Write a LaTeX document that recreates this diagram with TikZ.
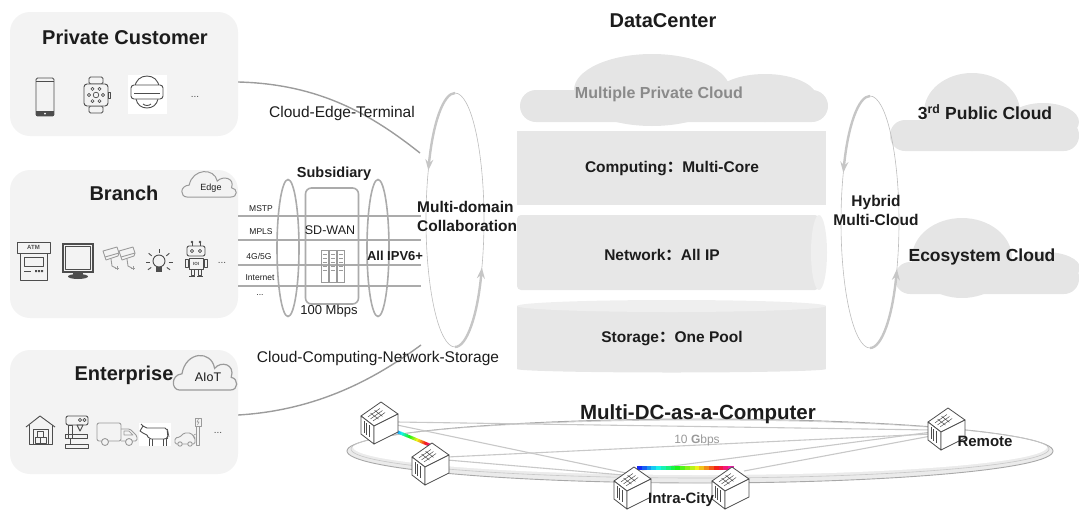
\documentclass[tikz,border=0pt]{standalone}
\usepackage{fontspec}
\setmainfont{Liberation Sans}
\newfontfamily\cjkfont{Noto Sans CJK SC}
\usetikzlibrary{shapes.geometric,arrows.meta,calc}

\definecolor{boxfill}{HTML}{F3F3F3}
\definecolor{bandfill}{HTML}{E7E7E7}
\definecolor{capfill}{HTML}{EFEFEF}
\definecolor{cloudfill}{HTML}{E5E5E5}
\definecolor{linegray}{HTML}{ABABAB}
\definecolor{curvegray}{HTML}{9C9C9C}
\definecolor{ringgray}{HTML}{BDBDBD}
\definecolor{arrowgray}{HTML}{C6C6C6}
\definecolor{icongray}{HTML}{4D4D4D}
\definecolor{palegray}{HTML}{9A9A9A}
\definecolor{txt}{HTML}{1C1C1C}
\definecolor{softtxt}{HTML}{8A8A8A}
\definecolor{meshgray}{HTML}{C8C8C8}
\definecolor{floorline}{HTML}{A8A8A8}
\definecolor{floorfill}{HTML}{EBEBEB}

\newcommand{\fwcolon}{{\cjkfont ：}}

\tikzset{
  dcline/.style={draw=icongray, line width=0.8pt, line join=round},
  pics/dcbox/.style={code={
    \draw[dcline, fill=white] (-18,-6) -- (2,-20) -- (19,-8) -- (-5,4) -- cycle;
    \draw[dcline, fill=white] (-18,-6) -- (-5,4) -- (-5,22) -- (-18,12) -- cycle;
    \draw[dcline, fill=white] (-5,4) -- (19,-8) -- (19,10) -- (-5,22) -- cycle;
    \draw[dcline, line width=0.5pt] (-11.1,-5.1) -- (0.9,-13.5) (-8.5,-3.1) -- (3.5,-11.5)
       (-5.9,-1.1) -- (6.1,-9.5) (-8.4,-8.9) -- (-0.6,-2.9) (-4.4,-11.7) -- (3.4,-5.7);
    \draw[dcline, line width=0.6pt] (-15,-0.7) -- (-15,11.3) (-12.5,1.2) -- (-12.5,13.2) (-10,3.2) -- (-10,15.2);
  }},
  pics/cloudline/.style={code={
    \draw[pic actions] (-0.8,0) .. controls (-1.05,0) and (-1.08,-0.42) .. (-0.72,-0.45)
      .. controls (-0.6,-1.08) and (0.2,-1.12) .. (0.3,-0.6)
      .. controls (0.5,-0.82) and (0.95,-0.72) .. (0.82,-0.35)
      .. controls (1.05,-0.32) and (1.05,0) .. (0.8,0) -- cycle;
  }}
}

\begin{document}
\begin{tikzpicture}[x=1pt,y=-1pt,
  panel/.style={fill=boxfill, rounded corners=20pt, minimum width=228pt, inner sep=0pt},
  ptitle/.style={font=\fontsize{20}{24}\selectfont\bfseries, text=txt, inner sep=0pt},
  plain/.style={font=\fontsize{15.5}{18}\selectfont, text=txt, inner sep=0pt},
  blabel/.style={font=\fontsize{15.5}{19}\selectfont\bfseries, text=txt, inner sep=0pt},
  smalltxt/.style={font=\fontsize{8.5}{10}\selectfont, text=txt, inner sep=0pt},
  dots/.style={font=\fontsize{10}{12}\selectfont, text=icongray, inner sep=0pt},
  icon/.style={draw=icongray, line width=0.9pt, line join=round},
  paleicon/.style={draw=palegray, line width=0.9pt, line join=round},
  wanline/.style={draw=linegray, line width=1.6pt},
  curveline/.style={draw=curvegray, line width=1.4pt},
  ring/.style={ellipse, draw=ringgray, line width=0.6pt, inner sep=0pt},
  cycarrow/.style={draw=arrowgray, line width=2.4pt, -{Stealth[length=11pt,width=8pt]}},
  meshline/.style={draw=meshgray, line width=1.1pt},
  dcnode/.style={minimum size=38pt, inner sep=0pt}
]
\useasboundingbox (0,0) rectangle (1079,509);

% ---------------- left panels ----------------
\node[panel, minimum height=124pt] (pc) at (124,74) {};
\node[panel, minimum height=148pt] (br) at (124,244) {};
\node[panel, minimum height=124pt] (ent) at (124,412) {};

\node[ptitle] (pct) at (125,37) {Private Customer};
\node[ptitle] (brt) at (124,193) {Branch};
\node[ptitle] (entt) at (124,375) {Enterprise};

% edge / AIoT clouds
\pic[draw=palegray, fill=boxfill, line width=1pt, xscale=27.5, yscale=26.5] at (209,197) {cloudline};
\node[font=\fontsize{9}{10}\selectfont, text=txt, inner sep=0pt] (edge) at (211,188) {Edge};
\pic[draw=palegray, fill=boxfill, line width=1.2pt, xscale=32, yscale=36] at (205,390) {cloudline};
\node[font=\fontsize{12.5}{14}\selectfont, text=txt, inner sep=0pt] (aiot) at (208,377) {AIoT};

% private customer devices
\begin{scope}[shift={(45,97)}]
  \draw[icon, rounded corners=1.5pt] (-9,-19) rectangle (9,19);
  \draw[icon] (-9,-16) -- (9,-16);
  \fill[icongray] (-9,14) rectangle (9,19);
  \fill[white] (0,16.5) circle (1);
\end{scope}
\begin{scope}[shift={(96,95)}]
  \draw[icon, rounded corners=1.5pt] (-7,-18) rectangle (7,-11);
  \draw[icon, rounded corners=1.5pt] (-7,11) rectangle (7,18);
  \draw[icon, fill=boxfill, rounded corners=3pt] (-12,-11) rectangle (12,11);
  \draw[icon] (12,-3) rectangle (14.5,3);
  \draw[icon, line width=0.7pt] (0,0) circle (2.8);
  \foreach \a in {0,60,...,300} \draw[icon, line width=0.6pt] (\a:7) circle (1.6);
\end{scope}
\begin{scope}[shift={(147,94)}]
  \fill[white] (-19,-19) rectangle (20,20);
  \draw[icon] (-12,-6) .. controls (-12,-22) and (12,-22) .. (12,-6);
  \draw[icon] (-11,5) .. controls (-9,17) and (9,17) .. (11,5);
  \draw[icon, rounded corners=3pt, fill=white] (-16,-9) rectangle (16,5);
  \draw[icon] (-13,-1) -- (13,-1);
  \draw[icon] (-4,10) .. controls (-2,12) and (2,12) .. (4,10);
\end{scope}
\node[dots] (pcdots) at (195,97) {...};

% branch devices
\begin{scope}[shift={(34,261)}]
  \draw[icon] (-17,-19) rectangle (16,-8);
  \node[font=\fontsize{6}{7}\selectfont\bfseries, text=icongray, inner sep=0pt] (atm) at (-0.5,-13.5) {ATM};
  \draw[icon] (-14,-8) rectangle (13,19);
  \draw[icon] (-10,-4) rectangle (9,5);
  \draw[icon] (-10,10) -- (-3,10);
  \fill[icongray] (1,9) rectangle (3,11) (4,9) rectangle (6,11) (7,9) rectangle (9,11);
\end{scope}
\begin{scope}[shift={(78,261)}]
  \draw[draw=icongray, line width=2.2pt] (-15,-17) rectangle (15,11);
  \draw[icon, line width=0.6pt] (-12.5,-14.5) rectangle (12.5,8.5);
  \fill[icongray] (-5,11) rectangle (5,14);
  \fill[icongray] (0,15.5) ellipse (10 and 2.5);
\end{scope}
\begin{scope}[shift={(120,260)}]
  \foreach \dx in {0,16} {
    \begin{scope}[xshift=\dx]
      \draw[paleicon] (-17,-9) -- (-3,-13) -- (-1,-7) -- (-15,-3) -- cycle;
      \draw[paleicon] (-15,-3) -- (-14,0) -- (-2,-4) -- (-1,-7);
      \draw[paleicon] (-9,-1) -- (-8,6) -- (-4,8);
      \draw[paleicon, line width=0.6pt] (-3,6) -- (-3,10) (-5,8) -- (-1,8);
    \end{scope}
  }
\end{scope}
\begin{scope}[shift={(159,262)}]
  \draw[icon] (0,-1) circle (6);
  \fill[icongray] (-3,5) rectangle (3,10);
  \foreach \a in {-90,-40,-140,0,180,35,145} \draw[icon] (\a:9.5) -- (\a:13.5);
\end{scope}
\begin{scope}[shift={(196,259)}]
  \draw[icon] (-4,-17) -- (-4,-13) (4,-17) -- (4,-13);
  \fill[icongray] (-4,-17) circle (1.3) (4,-17) circle (1.3);
  \draw[icon, rounded corners=2pt] (-9,-13) rectangle (9,-3);
  \draw[icon, line width=0.7pt] (-4,-8) circle (1.6) (4,-8) circle (1.6);
  \draw[icon] (-7,-1) rectangle (7,10);
  \node[font=\fontsize{4.5}{5}\selectfont\bfseries, text=icongray, inner sep=0pt] (ioi) at (0,4.5) {IOI};
  \draw[icon] (-11,0) rectangle (-8,8) (8,0) rectangle (11,8);
  \draw[icon] (-5,10) rectangle (-2,16) (2,10) rectangle (5,16);
  \draw[icon] (-7,17.5) -- (-1,17.5) (1,17.5) -- (7,17.5);
\end{scope}
\node[dots] (brdots) at (222,263) {...};

% enterprise devices
\begin{scope}[shift={(40,430)}]
  \draw[icon] (-14,-3) -- (0,-14) -- (15,-3);
  \draw[icon] (-11,-5) -- (-11,14) -- (12,14) -- (12,-5);
  \draw[icon] (-7,-1) rectangle (8,14);
  \draw[icon, line width=0.7pt] (-5,7) rectangle (0.5,13) (0.5,7) rectangle (6,13) (-2.5,1.5) rectangle (3,7);
\end{scope}
\begin{scope}[shift={(76,432)}]
  \draw[icon, rounded corners=2pt] (-10,-16) rectangle (12,-7);
  \draw[icon, line width=0.6pt] (4,-12) circle (1.6) (8.5,-12) circle (1.6);
  \draw[icon] (-8,-7) rectangle (-4,6);
  \draw[icon] (1,-7) -- (7,-7) -- (4,-1) -- cycle;
  \draw[icon] (-11,2) rectangle (11,6);
  \draw[icon] (-6,6) -- (-6,12);
  \draw[icon] (-11,12) rectangle (12,16);
\end{scope}
\begin{scope}[shift={(117,434)}]
  \draw[paleicon, rounded corners=2pt] (-20,-11) rectangle (4,7);
  \draw[paleicon, rounded corners=1.5pt] (4,-5) -- (13,-5) -- (20,2) -- (20,7) -- (4,7);
  \draw[paleicon, line width=0.7pt] (7,-3) -- (12,-3) -- (16,1) -- (7,1) -- cycle;
  \draw[paleicon, fill=boxfill] (-12,8) circle (3.5) (12,8) circle (3.5);
\end{scope}
\begin{scope}[shift={(155,434)}]
  \fill[white] (-16,-11) rectangle (16,12);
  \draw[icon, rounded corners=2pt] (-8,-6) -- (12,-6) -- (13,4) -- (11,5) -- (-6,5) -- (-8,1);
  \draw[icon] (-8,-6) -- (-12,-8) -- (-15,-3) -- (-12,-1) -- (-8,1);
  \draw[icon] (-12,-8) -- (-14,-10);
  \draw[icon] (-6,5) -- (-6,12) (-3,5) -- (-3,12) (8,5) -- (8,12) (11,5) -- (11,12);
  \draw[icon, line width=0.6pt] (12.5,-5) -- (14,3);
\end{scope}
\begin{scope}[shift={(189,432)}]
  \draw[paleicon] (6,-14) rectangle (12,-6);
  \draw[paleicon, line width=0.6pt] (9.5,-13) -- (8,-10) -- (10,-10) -- (8.5,-7);
  \draw[paleicon] (7.5,-6) rectangle (10.5,13);
  \draw[paleicon, line width=0.6pt] (7.5,2) .. controls (4,2) and (4,5) .. (5,6);
  \draw[paleicon, rounded corners=1.5pt] (-14,12) -- (-14,6) -- (-9,5) -- (-5,1) -- (2,1) -- (5,5) -- (6,6) -- (6,12) -- cycle;
  \draw[paleicon, fill=boxfill] (-9,12) circle (2.2) (1,12) circle (2.2);
\end{scope}
\node[dots] (entdots) at (218,433) {...};

% ---------------- subsidiary access ----------------
\foreach \yy [count=\k] in {216,240,265,286} {
  \coordinate (wan\k) at (421,\yy);
  \draw[wanline] (br.east |- wan\k) -- (wan\k);
}
\node[smalltxt] (mstp) at (261,209) {MSTP};
\node[smalltxt] (mpls) at (261,232) {MPLS};
\node[smalltxt] (g45) at (259,256) {4G/5G};
\node[smalltxt] (inet) at (260,278) {Internet};
\node[smalltxt] (wdots) at (260,295) {...};

\node[ellipse, draw=linegray, line width=1.6pt, inner sep=0pt, minimum width=22pt, minimum height=137pt] (e1) at (288,248) {};
\node[ellipse, draw=linegray, line width=1.6pt, inner sep=0pt, minimum width=22pt, minimum height=137pt] (e2) at (378,248) {};
\node[draw=linegray, line width=1.6pt, rounded corners=6pt, minimum width=53pt, minimum height=116pt, inner sep=0pt] (sd) at (332,246) {};

\node[font=\fontsize{14.5}{17}\selectfont\bfseries, text=txt, inner sep=0pt] (sub) at (334,174) {Subsidiary};
\node[font=\fontsize{12.5}{15}\selectfont, text=txt, inner sep=0pt] (sdw) at (330,230) {SD-WAN};
\node[font=\fontsize{13}{15}\selectfont, text=txt, inner sep=0pt] (mbps) at (329,311) {100 Mbps};
\node[font=\fontsize{13}{15}\selectfont\bfseries, text=txt, inner sep=0pt] (ipv6) at (395,256) {All IPV6+};

\begin{scope}[shift={(332,266)}, draw=palegray, line width=0.8pt]
  \foreach \xx in {-11,-3,5} {
    \draw (\xx,-16) rectangle ++(7,32);
    \foreach \yy in {-12,-8,-4,0,4} \draw[line width=0.5pt] (\xx+1.5,\yy) -- ++(4,0);
  }
\end{scope}

% ---------------- multi-domain ring ----------------
\node[ring, minimum width=58pt, minimum height=254pt] (mdc) at (455,220) {};
\draw[cycarrow] ([yshift=127pt]mdc.center) arc[start angle=270, end angle=203, x radius=29, y radius=127];
\draw[cycarrow] ([yshift=-127pt]mdc.center) arc[start angle=90, end angle=22, x radius=29, y radius=127];
\node[blabel, align=left, anchor=west] (mdct) at (417,216) {Multi-domain\\Collaboration};

% connectors from the panels
\coordinate (cetEnd) at (420,153);
\draw[curveline] ([yshift=-8pt]pc.east) .. controls (320,84) and (372,115) .. (cetEnd);
\coordinate (cnsEnd) at (421,345);
\draw[curveline] ([yshift=-3pt]ent.east) .. controls (322,410) and (380,375) .. (cnsEnd);
\node[plain] (cet) at (342,113) {Cloud-Edge-Terminal};
\node[plain] (cns) at (378,358) {Cloud-Computing-Network-Storage};

% ---------------- data center ----------------
\node[ptitle] (dct) at (663,21) {DataCenter};

\fill[cloudfill, rounded corners=16pt] (520,90) rectangle (828,122);
\fill[cloudfill] (652,90) ellipse (78 and 36) (765,98) ellipse (52 and 24);
\node[font=\fontsize{16}{18}\selectfont\bfseries, text=softtxt, inner sep=0pt] (mpc) at (659,94) {Multiple Private Cloud};

\fill[bandfill] (517,131) rectangle (826,205);
\node[font=\fontsize{15.5}{18}\selectfont\bfseries, text=txt, inner sep=0pt] (cmp) at (672,169) {Computing\fwcolon Multi-Core};

\fill[bandfill, rounded corners=4pt] (517,215) rectangle (819,290);
\fill[capfill] (819,252.5) ellipse (8 and 37.5);
\node[font=\fontsize{15.5}{18}\selectfont\bfseries, text=txt, inner sep=0pt] (net) at (662,255) {Network\fwcolon All IP};

\fill[bandfill] (517,306) rectangle (826,369);
\fill[bandfill] (671.5,369) ellipse (154.5 and 3.5);
\fill[capfill] (671.5,306) ellipse (154.5 and 6);
\node[font=\fontsize{15.5}{18}\selectfont\bfseries, text=txt, inner sep=0pt] (sto) at (672,339) {Storage\fwcolon One Pool};

% ---------------- hybrid multi-cloud ----------------
\fill[cloudfill, rounded corners=15pt] (890,120) rectangle (1079,151);
\fill[cloudfill] (972,112) ellipse (48 and 39) (1043,122) ellipse (36 and 19);
\node[font=\fontsize{17.5}{20}\selectfont\bfseries, text=txt, inner sep=0pt] (pub) at (985,112) {3\textsuperscript{rd} Public Cloud};

\fill[cloudfill, rounded corners=15pt] (895,262) rectangle (1079,294);
\fill[cloudfill] (962,258) ellipse (50 and 40) (1045,268) ellipse (35 and 16);
\node[font=\fontsize{17.5}{20}\selectfont\bfseries, text=txt, inner sep=0pt] (eco) at (982,257) {Ecosystem Cloud};

\node[ring, minimum width=58pt, minimum height=252pt] (hmc) at (870,222) {};
\draw[cycarrow] ([yshift=126pt]hmc.center) arc[start angle=270, end angle=203, x radius=29, y radius=126];
\draw[cycarrow] ([yshift=-126pt]hmc.center) arc[start angle=90, end angle=22, x radius=29, y radius=126];
\node[font=\fontsize{15.5}{19}\selectfont\bfseries, text=txt, inner sep=0pt, align=center] (hmct) at (876,210) {Hybrid\\Multi-Cloud};

% ---------------- multi-DC floor ----------------
\fill[floorfill] (700,451) ellipse (353 and 32);
\fill[white] (700,447) ellipse (347 and 28);
\draw[floorline, line width=0.9pt] (700,451) ellipse (353 and 32);
\draw[meshgray, line width=0.6pt] (700,449) ellipse (349 and 29);

\node[dcnode] (dc1) at (379,422) {};
\node[dcnode] (dc2) at (430,463) {};
\node[dcnode] (ic1) at (632,487) {};
\node[dcnode] (ic2) at (730,487) {};
\node[dcnode] (rem) at (946,428) {};

\draw[meshline] ($(dc1)+(18,3)$) -- ($(ic1)+(-6,-14)$);
\draw[meshline] ($(dc1)+(18,0)$) -- ($(rem)+(-14,2)$);
\draw[meshline] ($(dc2)+(17,-6)$) -- ($(rem)+(-15,6)$);
\draw[meshline] ($(dc2)+(17,-3)$) -- ($(ic1)+(-9,-12)$);
\draw[meshline] ($(ic1)+(10,-17)$) -- ($(rem)+(-14,4)$);
\draw[meshline] ($(ic2)+(14,-16)$) -- ($(rem)+(-15,8)$);

\coordinate (r1a) at ($(dc1)+(14,8)$);
\coordinate (r1b) at ($(dc2)+(2,-17)$);
\coordinate (r2a) at ($(ic1)+(5,-19)$);
\coordinate (r2b) at ($(ic2)+(3,-19)$);
\foreach \i in {0,...,19} {
  \pgfmathsetmacro\hue{mod(235-14.5*\i+360,360)}
  \definecolor{rb}{Hsb}{\hue,0.9,0.95}
  \draw[rb, line width=3pt] ($(r1a)!\i/20!(r1b)$) -- ($(r1a)!\i/20+0.06!(r1b)$);
  \draw[rb, line width=3.5pt] ($(r2a)!\i/20!(r2b)$) -- ($(r2a)!\i/20+0.06!(r2b)$);
}

\pic at (dc1) {dcbox};
\pic at (dc2) {dcbox};
\pic at (ic1) {dcbox};
\pic at (ic2) {dcbox};
\pic at (rem) {dcbox};

\node[font=\fontsize{20.5}{24}\selectfont\bfseries, text=txt, inner sep=0pt] (mdcc) at (698,414) {Multi-DC-as-a-Computer};
\node[font=\fontsize{12}{14}\selectfont, text=palegray, inner sep=0pt] (gbps) at (697,440) {10 \textbf{G}bps};
\node[font=\fontsize{15}{18}\selectfont\bfseries, text=txt, inner sep=0pt] (icity) at (681,500) {Intra-City};
\node[font=\fontsize{15}{18}\selectfont\bfseries, text=txt, inner sep=0pt] (remt) at (985,441) {Remote};
\end{tikzpicture}
\end{document}
